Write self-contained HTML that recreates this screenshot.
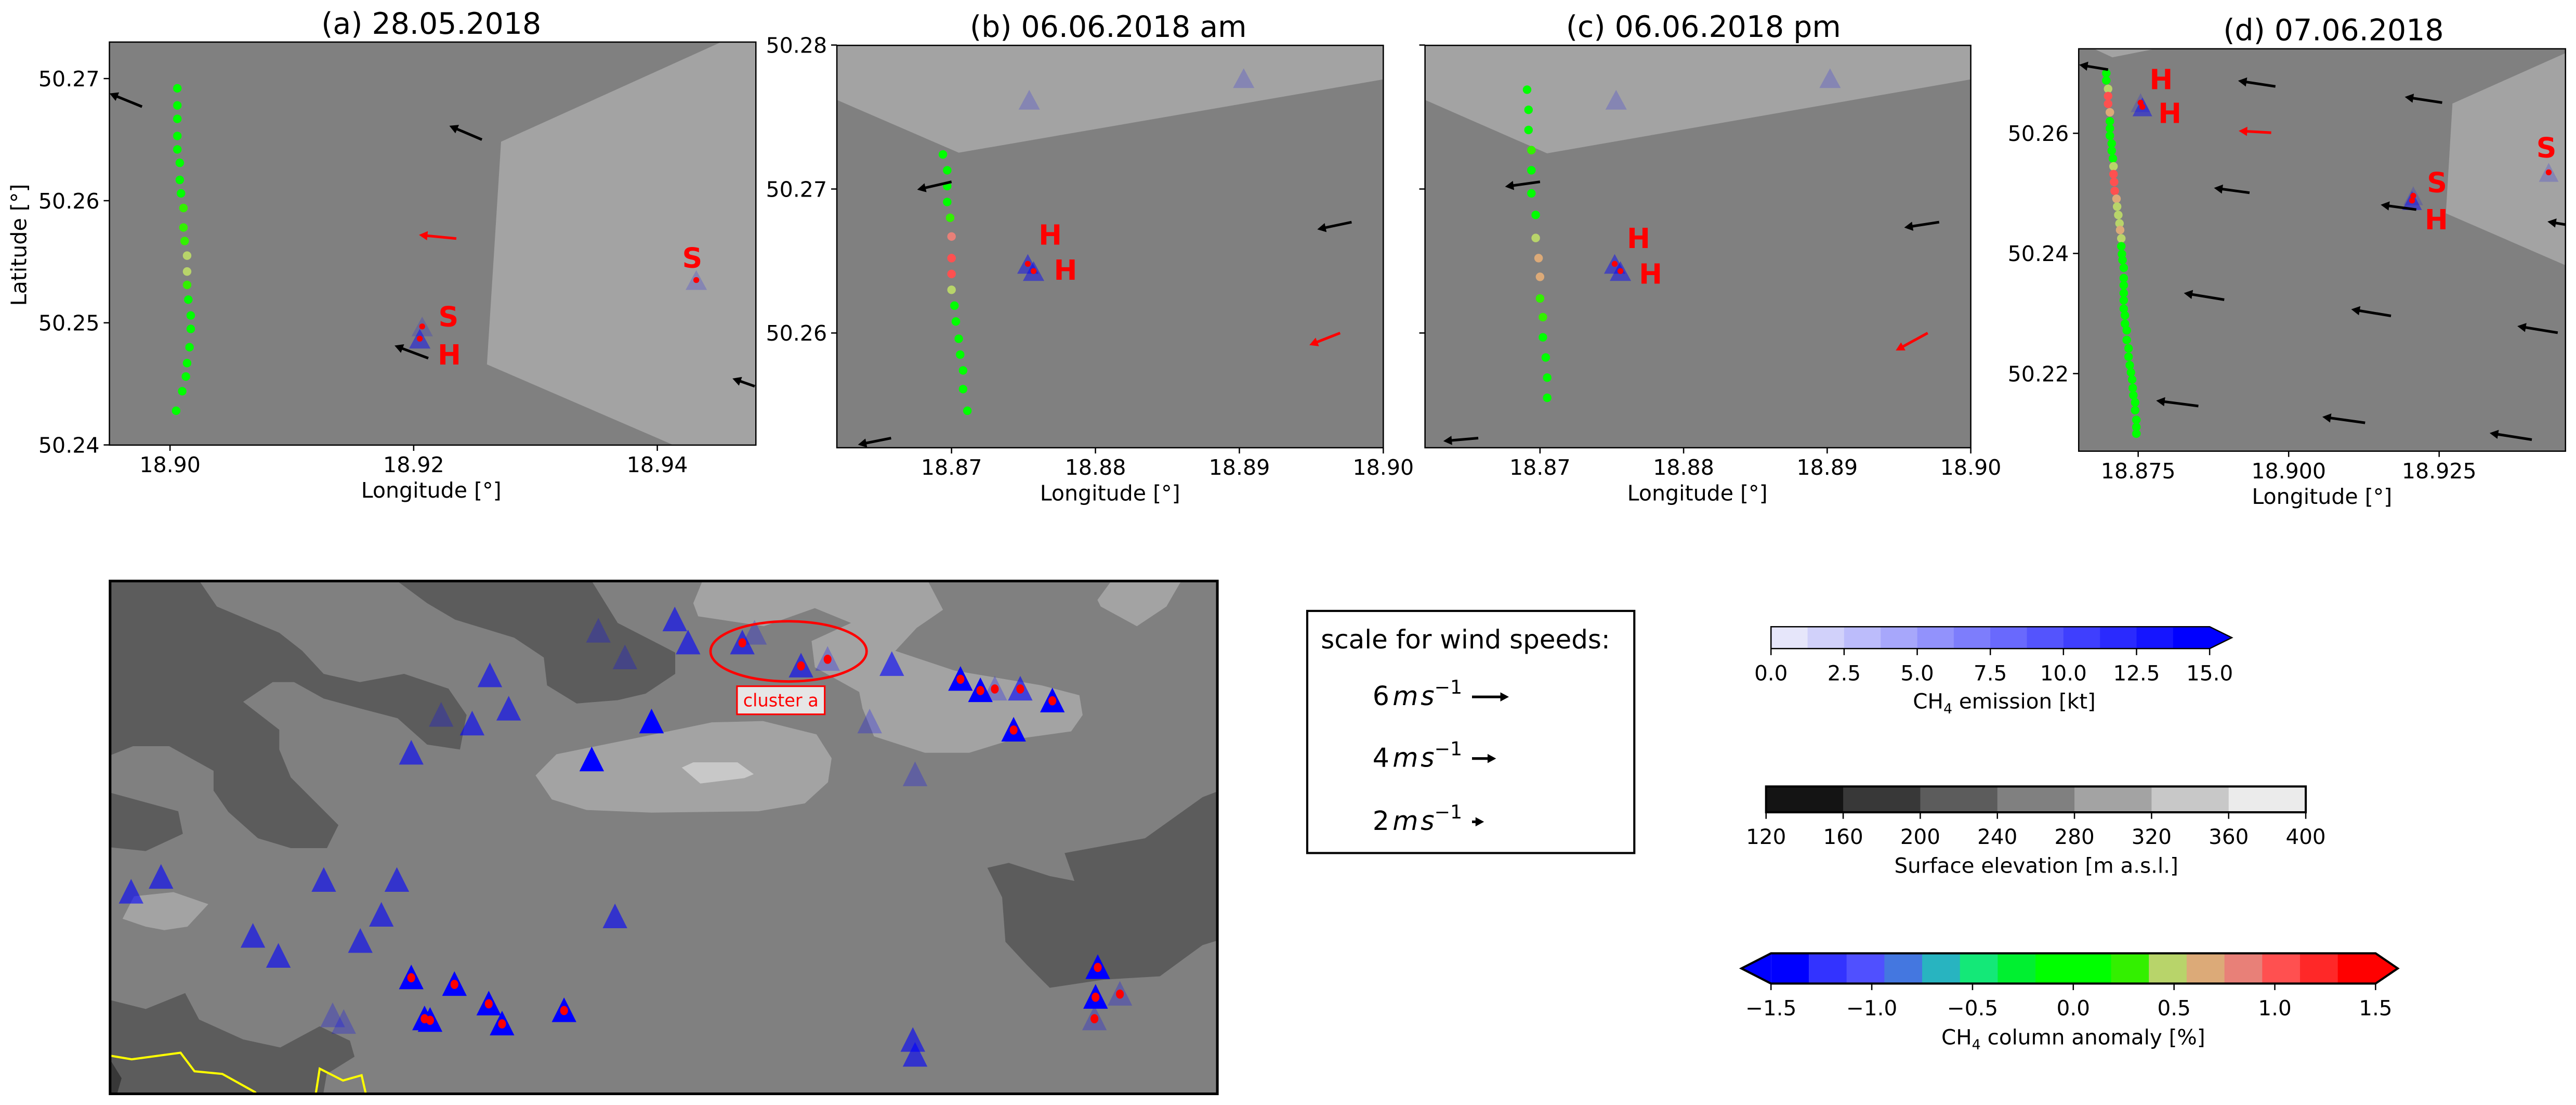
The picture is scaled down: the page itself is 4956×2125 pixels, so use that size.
<!DOCTYPE html>
<html><head><meta charset="utf-8">
<style>
html,body{margin:0;padding:0;background:#fff;}
svg{display:block;font-family:"DejaVu Sans","Liberation Sans",sans-serif;}
</style></head>
<body>
<svg id="fig" xmlns="http://www.w3.org/2000/svg" width="4956" height="2125" viewBox="0 0 1568 672.3" preserveAspectRatio="none">
<rect x="0" y="0" width="1568" height="672.3" fill="#fff"/>
<defs>
<clipPath id="clip-a"><rect x="66.6" y="25.6" width="393.5" height="245.2"/></clipPath>
<clipPath id="clip-b"><rect x="509.4" y="27.6" width="332.6" height="244.8"/></clipPath>
<clipPath id="clip-c"><rect x="867.4" y="27.6" width="332.2" height="244.8"/></clipPath>
<clipPath id="clip-d"><rect x="1265.3" y="29.7" width="296.3" height="244.8"/></clipPath>
<clipPath id="clip-map"><rect x="67" y="353.5" width="674" height="312"/></clipPath>
</defs>
<g id="layer"></g>
</svg>
<script>
// ---------- DATA ----------
const aLon = [18.9006,18.9006,18.9006,18.9006,18.9006,18.9008,18.9008,18.9009,18.9011,18.9011,18.9012,18.9014,18.9014,18.9014,18.9015,18.9017,18.9017,18.9016,18.9014,18.9013,18.9010,18.9005];
const aLat = [50.2692,50.2678,50.2667,50.2653,50.2642,50.2631,50.2617,50.2606,50.2594,50.2578,50.2567,50.2555,50.2542,50.2531,50.2519,50.2506,50.2495,50.2480,50.2467,50.2456,50.2444,50.2428];
const aAnom = [0,0,0,0,0,0,0,0,0.2,0.2,0.2,0.45,0.45,0.2,0,0,0,0,0,0,0,0];
const bLon = [18.8694,18.8697,18.8697,18.8697,18.8699,18.8700,18.8700,18.8700,18.8700,18.8702,18.8703,18.8705,18.8706,18.8708,18.8708,18.8711];
const bLat = [50.2724,50.2713,50.2702,50.2691,50.2680,50.2667,50.2652,50.2641,50.2630,50.2619,50.2608,50.2596,50.2585,50.2574,50.2561,50.2546];
const bAnom = [0,0,0,0,0.3,0.85,1.05,1.05,0.45,0,0,0,0,0,0,0];
const cLon = [18.8691,18.8692,18.8692,18.8694,18.8694,18.8694,18.8697,18.8697,18.8699,18.8700,18.8700,18.8702,18.8702,18.8704,18.8705,18.8705];
const cLat = [50.2769,50.2755,50.2741,50.2727,50.2713,50.2697,50.2682,50.2666,50.2652,50.2639,50.2624,50.2611,50.2597,50.2583,50.2569,50.2555];
const cAnom = [0,0,0,0.2,0,0,0,0.45,0.65,0.65,0.3,0.3,0,0,0,0];
const dLon = [18.8697,18.8697,18.8700,18.8700,18.8700,18.8703,18.8703,18.8703,18.8703,18.8706,18.8706,18.8708,18.8709,18.8709,18.8710,18.8711,18.8714,18.8715,18.8717,18.8719,18.8720,18.8722,18.8722,18.8723,18.8724,18.8726,18.8726,18.8726,18.8726,18.8726,18.8726,18.8728,18.8728,18.8731,18.8731,18.8734,18.8734,18.8736,18.8738,18.8740,18.8741,18.8742,18.8745,18.8745,18.8747,18.8747,18.8747];
const dLat = [50.2700,50.2688,50.2674,50.2662,50.2649,50.2635,50.2620,50.2608,50.2596,50.2583,50.2571,50.2558,50.2545,50.2532,50.2519,50.2504,50.2491,50.2478,50.2464,50.2450,50.2439,50.2425,50.2412,50.2399,50.2389,50.2376,50.2359,50.2347,50.2334,50.2322,50.2308,50.2297,50.2283,50.2272,50.2256,50.2242,50.2228,50.2214,50.2202,50.2190,50.2176,50.2164,50.2152,50.2139,50.2123,50.2111,50.2100];
const dAnom = [0,0,0.45,1.05,1.05,0.65,0,0,0,0,0,0,0.45,1.05,1.05,1.05,0.65,0.45,0.45,0.45,0.65,0.45,0,0,0,0,0,0,0,0,0,0,0,0,0,0,0,0,0,0,0,0,0,0,0,0,0];

const aStLon = [18.9207,18.9205,18.9432];
const aStLat = [50.2497,50.2487,50.2535];
const aStCls = ['f','m','f'];
const aStDot = [1,1,1];
const bStLon = [18.8754,18.8903,18.8753,18.8757];
const bStLat = [50.2762,50.2777,50.2648,50.2643];
const bStCls = ['f','f','m','m'];
const bStDot = [0,0,1,1];
const cStLon = [18.8753,18.8902,18.8752,18.8756];
const cStLat = [50.2762,50.2777,50.2648,50.2643];
const cStCls = ['f','f','m','m'];
const cStDot = [0,0,1,1];
const dStLon = [18.8754,18.8757,18.9207,18.9205,18.9432];
const dStLat = [50.2651,50.2644,50.2496,50.2488,50.2535];
const dStCls = ['f','m','f','m','f'];
const dStDot = [1,1,1,1,1];

const aWLon = [18.8977,18.9256,18.9235,18.9212,18.9480];
const aWLat = [50.2677,50.2650,50.2569,50.2471,50.2448];
const aWU = [-5.4,-5.4,-6.2,-5.6,-3.7];
const aWV = [2.2,2.3,0.6,2.1,1.3];
const aWRed = [0,0,1,0,0];
const bWLon = [18.8700,18.8978,18.8970,18.8658];
const bWLat = [50.2705,50.2677,50.2600,50.2527];
const bWU = [-5.7,-5.7,-5.1,-5.5];
const bWV = [-1.3,-1.2,-2.0,-1.1];
const bWRed = [0,0,1,0];
const cWLon = [18.8700,18.8978,18.8970,18.8657];
const cWLat = [50.2705,50.2677,50.2600,50.2527];
const cWU = [-5.8,-5.8,-5.3,-5.8];
const cWV = [-0.8,-0.9,-2.9,-0.5];
const cWRed = [0,0,1,0];
const dWLon = [18.8700,18.8978,18.9255,18.8971,18.8935,18.9212,18.9460,18.8893,18.9170,18.9447,18.8850,18.9127,18.9404];
const dWLat = [50.2706,50.2678,50.2651,50.2601,50.2501,50.2473,50.2448,50.2323,50.2296,50.2268,50.2146,50.2118,50.2090];
const dWU = [-4.8,-6.2,-6.2,-5.4,-5.9,-5.9,-3.0,-6.7,-6.6,-6.7,-7.0,-7.1,-7.0];
const dWV = [0.8,0.95,0.95,0.3,0.8,0.8,0.5,1.1,1.1,1.1,0.9,1.0,1.1];
const dWRed = [0,0,0,1,0,0,0,0,0,0,0,0,0];

const aXTicks = [18.90,18.92,18.94];
const aYTicks = [50.24,50.25,50.26,50.27];
const bXTicks = [18.87,18.88,18.89,18.90];
const bYTicks = [50.26,50.27,50.28];
const cXTicks = [18.87,18.88,18.89,18.90];
const cYTicks = [50.26,50.27,50.28];
const dXTicks = [18.875,18.900,18.925];
const dYTicks = [50.22,50.24,50.26];

const mapE = [51.0,44.1,46.5,52.2,57.1,58.2,62.4,64.8,70.6,34.3,48.9,36.0,32.7,29.9,27.2,43.5,76.8,78.6,79.9,82.2,85.1,81.6,68.6,72.7,1.9,4.6,19.3,25.9,24.5,12.9,22.6,15.2,45.6,27.2,31.1,34.2,28.4,28.9,35.4,41.0,20.1,21.1,89.2,89.0,91.2,88.9,72.5,72.7];
const mapN = [92.6,90.4,85.2,88.1,88.1,90.0,83.6,84.9,83.9,81.7,72.7,75.2,72.3,74.0,66.6,65.3,81.0,78.8,79.1,79.1,76.8,71.1,72.7,62.4,39.5,42.4,41.8,41.8,35.0,30.9,29.9,27.0,34.7,22.8,21.5,17.7,14.8,14.5,13.8,16.4,15.4,14.1,24.8,19.0,19.6,14.8,10.6,7.7];
const mapCls = ['m','f','f','m','m','f','m','f','m','m','s','m','m','f','m','s','s','s','f','m','s','s','f','f','m','m','m','m','m','m','m','m','m','s','s','s','s','s','s','s','f','f','s','s','f','f','m','m'];
const mapDot = [0,0,0,0,1,0,1,1,0,0,0,0,0,0,0,0,1,1,1,1,1,1,0,0,0,0,0,0,0,0,0,0,0,1,1,1,1,1,1,1,0,0,1,1,1,1,0,0];

const emisLevels = [0,1.25,2.5,3.75,5,6.25,7.5,8.75,10,11.25,12.5,13.75,15];
const emisTicks = [0,2.5,5,7.5,10,12.5,15];
const elevLevels = [120,160,200,240,280,320,360,400];
const elevTicks = [120,160,200,240,280,320,360,400];
const anomLevels = [-1.5,-1.3125,-1.125,-0.9375,-0.75,-0.5625,-0.375,-0.1875,0,0.1875,0.375,0.5625,0.75,0.9375,1.125,1.3125,1.5];
const anomTicks = [-1.5,-1.0,-0.5,0.0,0.5,1.0,1.5];
const windScaleSpeeds = [6,4,2];

// ---------- STYLE ----------
const ANOM_COLORS = ['#0000ff','#3333ff','#5050ff','#4477e0','#28b4c0','#14e878','#00f030','#00ff00','#00ff00','#33f000','#b8d46a','#dcaa78','#e88078','#ff5050','#ff2828','#ff0000'];
const ELEV_COLORS = ['#141414','#383838','#5c5c5c','#808080','#a3a3a3','#c8c8c8','#ebebeb'];
const PX_PER_MS = 3.67;

const NS = 'http://www.w3.org/2000/svg';
const root = document.getElementById('layer');
function mk(tag, attrs, parent){
  const e = document.createElementNS(NS, tag);
  for (const k in attrs) e.setAttribute(k, attrs[k]);
  (parent || root).appendChild(e);
  return e;
}
function anomColor(v){
  let i = 0;
  while (i < anomLevels.length - 2 && v >= anomLevels[i+1]) i++;
  if (v < anomLevels[0]) return '#0000ff';
  return ANOM_COLORS[i];
}
function arrow(g, x, y, dx, dy, color){
  const L = Math.hypot(dx, dy);
  if (L < 0.01) return null;
  const ux = dx / L, uy = dy / L, nx = -uy, ny = ux;
  const hl = 5.2, hw = 2.8, sw = 0.8;
  const bx = x + dx - ux*hl, by = y + dy - uy*hl;
  const pts = [
    [x + nx*sw, y + ny*sw], [bx + nx*sw, by + ny*sw], [bx + nx*hw, by + ny*hw],
    [x + dx, y + dy], [bx - nx*hw, by - ny*hw], [bx - nx*sw, by - ny*sw], [x - nx*sw, y - ny*sw]
  ].map(p => p[0].toFixed(2) + ',' + p[1].toFixed(2)).join(' ');
  return mk('polygon', {points: pts, fill: color}, g);
}
function tri(g, cx, cy, w, h, fill){
  return mk('polygon', {points: (cx)+','+(cy-h/2)+' '+(cx-w/2)+','+(cy+h/2)+' '+(cx+w/2)+','+(cy+h/2), fill: fill}, g);
}

// ---------- PANELS ----------
const panels = [
  {id:'a', title:'(a) 28.05.2018', L:66.6, R:460.1, T:25.6, B:270.8, lon0:18.90, px0:103.5, kx:7415, lat0:50.27, py0:47.8, ky:7430,
   lon:aLon, lat:aLat, anom:aAnom, stLon:aStLon, stLat:aStLat, stCls:aStCls, stDot:aStDot,
   wLon:aWLon, wLat:aWLat, wU:aWU, wV:aWV, wRed:aWRed, xt:aXTicks, yt:aYTicks, xdec:2, ydec:2, ylab:true,
   titleX:262.5, titleY:20.5, xlabX:262.5, xlabY:302.7, dotR:2.6, triW:13, triH:12,
   bg:[[[439,25.6],[460.1,25.6],[460.1,270.8],[410,270.8],[296.4,221.7],[305,86.2]]],
   labels:[['S',273,192.7],['H',273.5,216],['S',421.4,157]]},
  {id:'b', title:'(b) 06.06.2018 am', L:509.4, R:842, T:27.6, B:272.4, lon0:18.87, px0:579.2, kx:8760, lat0:50.27, py0:115, ky:8760,
   lon:bLon, lat:bLat, anom:bAnom, stLon:bStLon, stLat:bStLat, stCls:bStCls, stDot:bStDot,
   wLon:bWLon, wLat:bWLat, wU:bWU, wV:bWV, wRed:bWRed, xt:bXTicks, yt:bYTicks, xdec:2, ydec:2, ylab:true,
   titleX:674.6, titleY:22.5, xlabX:675.7, xlabY:304.5, dotR:2.6, triW:13, triH:12,
   bg:[[[509.4,27.6],[842,27.6],[842,48.3],[583.6,92.9],[509.4,60.8]]],
   labels:[['H',639.3,143],['H',648.6,164.3]]},
  {id:'c', title:'(c) 06.06.2018 pm', L:867.4, R:1199.6, T:27.6, B:272.4, lon0:18.87, px0:937.4, kx:8740, lat0:50.27, py0:115, ky:8760,
   lon:cLon, lat:cLat, anom:cAnom, stLon:cStLon, stLat:cStLat, stCls:cStCls, stDot:cStDot,
   wLon:cWLon, wLat:cWLat, wU:cWU, wV:cWV, wRed:cWRed, xt:cXTicks, yt:cYTicks, xdec:2, ydec:2, ylab:false,
   titleX:1036.9, titleY:22.5, xlabX:1033.2, xlabY:304.5, dotR:2.6, triW:13, triH:12,
   bg:[[[867.4,27.6],[1199.6,27.6],[1199.6,48.3],[941.7,93.3],[867.4,60.8]]],
   labels:[['H',997.4,145],['H',1004.7,166.7]]},
  {id:'d', title:'(d) 07.06.2018', L:1265.3, R:1561.6, T:29.7, B:274.5, lon0:18.875, px0:1301.5, kx:3664, lat0:50.26, py0:81.1, ky:3655,
   lon:dLon, lat:dLat, anom:dAnom, stLon:dStLon, stLat:dStLat, stCls:dStCls, stDot:dStDot,
   wLon:dWLon, wLat:dWLat, wU:dWU, wV:dWV, wRed:dWRed, xt:dXTicks, yt:dYTicks, xdec:3, ydec:2, ylab:true,
   titleX:1420.4, titleY:24.5, xlabX:1413.4, xlabY:306.5, dotR:2.6, triW:12, triH:11.5,
   bg:[[[1274.6,29.7],[1312,29.7],[1285.8,34.9]],[[1561.6,32.3],[1561.6,161.4],[1488.8,129.8],[1492.8,63]]],
   labels:[['H',1315.5,48.4],['H',1320.8,69],['S',1483.4,111],['H',1483,133.6],['S',1550,89.8]]}
];

panels.forEach(p => {
  const sx = lon => p.px0 + (lon - p.lon0) * p.kx;
  const sy = lat => p.py0 + (p.lat0 - lat) * p.ky;
  const g = mk('g', {});
  
  
  const plot = mk('g', {'clip-path': 'url(#clip-' + p.id + ')'}, g);
  const bgr = mk('rect', {x:p.L, y:p.T, width:p.R-p.L, height:p.B-p.T, fill:'#808080'}, plot);
  
  
  p.bg.forEach(poly => {
    const e = mk('polygon', {points: poly.map(q => q.join(',')).join(' '), fill:'#a3a3a3'}, plot);
    
    
  });
  p.stLon.forEach((lo, i) => {
    const cx = sx(lo), cy = sy(p.stLat[i]);
    const fill = p.stCls[i] === 'm' ? 'rgba(0,0,255,0.45)' : 'rgba(0,0,255,0.18)';
    const t = tri(plot, cx, cy, p.triW, p.triH, fill);
    
    
  });
  p.stLon.forEach((lo, i) => {
    if (!p.stDot[i]) return;
    const d = mk('circle', {cx: sx(lo), cy: sy(p.stLat[i]), r: 1.8, fill:'#ff0000'}, plot);
    
    
  });
  p.lon.forEach((lo, i) => {
    const c = mk('circle', {cx: sx(lo), cy: sy(p.lat[i]), r: p.dotR, fill: anomColor(p.anom[i])}, plot);
    
    
  });
  p.wLon.forEach((lo, i) => {
    const a = arrow(plot, sx(lo), sy(p.wLat[i]), p.wU[i]*PX_PER_MS, -p.wV[i]*PX_PER_MS, p.wRed[i] ? '#ff0000' : '#000000');
    
    
  });
  p.labels.forEach(l => {
    const t = mk('text', {x:l[1], y:l[2], 'text-anchor':'middle', 'dominant-baseline':'central', 'font-size':17, 'font-weight':'bold', fill:'#ff0000'}, plot);
    t.textContent = l[0];
    
    
  });
  const fr = mk('rect', {x:p.L, y:p.T, width:p.R-p.L, height:p.B-p.T, fill:'none', stroke:'#000', 'stroke-width':0.8}, g);
  
  
  p.xt.forEach(v => {
    const x = sx(v);
    const tk = mk('line', {x1:x, x2:x, y1:p.B, y2:p.B+3.5, stroke:'#000', 'stroke-width':0.8}, g);
    
    
    const t = mk('text', {x:x, y:p.B+16.5, 'text-anchor':'middle', 'font-size':13, fill:'#000'}, g);
    t.textContent = v.toFixed(p.xdec);
    
    
  });
  p.yt.forEach(v => {
    const y = sy(v);
    const tk = mk('line', {x1:p.L-3.5, x2:p.L, y1:y, y2:y, stroke:'#000', 'stroke-width':0.8}, g);
    
    
    if (p.ylab) {
      const t = mk('text', {x:p.L-6, y:y+4.7, 'text-anchor':'end', 'font-size':13, fill:'#000'}, g);
      t.textContent = v.toFixed(p.ydec);
      
      
    }
  });
  const ti = mk('text', {x:p.titleX, y:p.titleY, 'text-anchor':'middle', 'font-size':18, fill:'#000'}, g);
  ti.textContent = p.title;
  
  
  const xl = mk('text', {x:p.xlabX, y:p.xlabY, 'text-anchor':'middle', 'font-size':13, fill:'#000'}, g);
  xl.textContent = 'Longitude [°]';
  
  
});
const ylab = mk('text', {x:0, y:0, transform:'translate(16,149) rotate(-90)', 'text-anchor':'middle', 'font-size':13, fill:'#000'});
ylab.textContent = 'Latitude [°]';



// ---------- OVERVIEW MAP ----------
const M = {L:67, R:741, T:353.5, B:665.5};
const mx = e => M.L + e/100*(M.R-M.L);
const my = n => M.B - n/100*(M.B-M.T);
const mapG = mk('g', {});


const mapPlot = mk('g', {'clip-path':'url(#clip-map)'}, mapG);
mk('rect', {x:M.L, y:M.T, width:M.R-M.L, height:M.B-M.T, fill:'#808080'}, mapPlot);
const mapPolys = [
  ['#5c5c5c', [[66,350],[119,350],[132,369],[170,385],[184,396],[197,410],[219,415],[246,410],[273,419],[284,435],[280,456],[260,453],[242,437],[219,431],[197,425],[179,415],[166,415],[148,427],[170,444],[170,456],[177,473],[206,502],[199,516],[177,516],[157,510],[139,494],[130,481],[130,469],[103,454],[81,454],[66,460]]],
  ['#5c5c5c', [[66,482],[108.5,493.6],[111.3,507.3],[88.7,517.8],[66,515.4]]],
  ['#5c5c5c', [[237,350],[260,367],[277,377],[313,388],[331,400],[333,417],[351,428],[376,426],[393,422],[411,410],[411,397],[376,379],[358,350]]],
  ['#5c5c5c', [[66,608.2],[88.7,613.9],[112.7,604.2],[121.2,620.3],[148,632.4],[170.6,637.3],[194.6,624.4],[213,633.2],[215.8,642.9],[198.9,653.4],[196,670],[66,670]]],
  ['#5c5c5c', [[601,528],[614,525],[639,533],[654,536],[648,519],[697,510],[732,485],[745,480],[745,571],[732,575],[706,594],[672,596],[639,601],[625,587],[612,573],[610,546]]],
  ['#383838', [[66,643],[74,656],[70,670],[66,670]]],
  ['#a3a3a3', [[429,350],[563,350],[574,371],[558,382],[545,396],[581,408],[634,417],[657,423],[659,435],[652,445],[616,450],[590,458],[563,458],[532,448],[525,431],[523,421],[496,406],[494,390],[518,379],[496,370],[465,381],[425,375],[422,367]]],
  ['#a3a3a3', [[679,350],[721,350],[710,369],[692,381],[670,369],[668,365]]],
  ['#a3a3a3', [[326,471.8],[338.7,458.9],[382.5,450],[433.3,439.5],[464.4,438.7],[497,446.8],[506.2,461.3],[504,475.9],[489.9,488.8],[461.6,493.6],[396.6,494.4],[357,492.8],[335.9,486.4]]],
  ['#c8c8c8', [[415,467],[422,463.8],[448.9,463.8],[458.8,471],[453.1,473.4],[426.3,476.7]]],
  ['#a3a3a3', [[74.6,559],[81.6,545.3],[105.6,542.8],[126.8,550.1],[114.1,563.8],[100,565.9],[88.7,563.8]]]
];
mapPolys.forEach(pp => {
  const e = mk('polygon', {points: pp[1].map(q => q.join(',')).join(' '), fill: pp[0]}, mapPlot);
  
  
});
const border1 = mk('polyline', {points:'66,642.1 80.2,644.5 109.9,640.5 118.4,651.8 135.3,653.4 155.1,664.4 160,670', fill:'none', stroke:'#ffff00', 'stroke-width':1.3}, mapPlot);


const border2 = mk('polyline', {points:'191.5,670 194.6,650.2 208.8,657.4 220.1,654.2 223.7,670', fill:'none', stroke:'#ffff00', 'stroke-width':1.3}, mapPlot);


const clsFill = {s:'#0000ff', m:'rgba(0,0,255,0.6)', f:'rgba(0,0,255,0.25)'};
mapE.forEach((e, i) => {
  const t = tri(mapPlot, mx(e), my(mapN[i]), 15, 15, clsFill[mapCls[i]]);
  
  
});
mapE.forEach((e, i) => {
  if (!mapDot[i]) return;
  const d = mk('ellipse', {cx: mx(e), cy: my(mapN[i]) + 0.5, rx: 2.4, ry: 2.8, fill:'#ff0000'}, mapPlot);
  
  
});
const ell = mk('ellipse', {cx:480, cy:396.3, rx:47.5, ry:18.3, fill:'none', stroke:'#ff0000', 'stroke-width':1.5}, mapPlot);


const cbox = mk('rect', {x:448.6, y:417.5, width:53.4, height:17.1, fill:'#e6e6e6', stroke:'#ff0000', 'stroke-width':1}, mapPlot);


const ctxt = mk('text', {x:475.3, y:429.8, 'text-anchor':'middle', 'font-size':10.6, fill:'#ff0000'}, mapPlot);
ctxt.textContent = 'cluster a';


const mframe = mk('rect', {x:M.L, y:M.T, width:M.R-M.L, height:M.B-M.T, fill:'none', stroke:'#000', 'stroke-width':1.6}, mapG);



// ---------- WIND SCALE LEGEND ----------
const wg = mk('g', {});


mk('rect', {x:795.7, y:371.7, width:199.1, height:147.3, fill:'#fff', stroke:'#000', 'stroke-width':1.3}, wg);
const wt = mk('text', {x:804, y:394.5, 'font-size':15.8, fill:'#000'}, wg);
wt.textContent = 'scale for wind speeds:';


const rowY = [429, 466.5, 505];
windScaleSpeeds.forEach((s, i) => {
  const t = mk('text', {x:835.5, y:rowY[i], 'font-size':16, fill:'#000'}, wg);
  
  
  const t1 = mk('tspan', {}, t); t1.textContent = String(s);
  const t2 = mk('tspan', {'font-style':'italic', dx:2}, t); t2.textContent = 'm';
  const t3 = mk('tspan', {'font-style':'italic', dx:1.5}, t); t3.textContent = 's';
  const t4 = mk('tspan', {'font-size':11.5, dy:-7}, t); t4.textContent = '−1';
  const a = arrow(wg, 896, rowY[i]-5, s*PX_PER_MS*(i===0?1.02:1), 0, '#000');
  
  
});

// ---------- COLORBARS ----------
function colorbar(name, levels, colors, ticks, x0, x1, y0, y1, extL, extR, tickFmt, titleParts, titleX, titleY, thick){
  const g = mk('g', {});
  
  
  const vmin = levels[0], vmax = levels[levels.length-1];
  const X = v => x0 + (v - vmin)/(vmax - vmin)*(x1 - x0);
  for (let i = 0; i < levels.length-1; i++) {
    const r = mk('rect', {x:X(levels[i]), y:y0, width:X(levels[i+1])-X(levels[i])+0.4, height:y1-y0, fill:colors[i]}, g);
    
    
  }
  const ym = (y0+y1)/2, ext = 13.5;
  let outline = x0+','+y0+' '+x1+','+y0;
  if (extR) { mk('polygon', {points: x1+','+y0+' '+(x1+ext)+','+ym+' '+x1+','+y1, fill: colors[colors.length-1]}, g); outline += ' '+(x1+ext)+','+ym; }
  outline += ' '+x1+','+y1+' '+x0+','+y1;
  if (extL) { mk('polygon', {points: x0+','+y0+' '+(x0-ext-4.5)+','+ym+' '+x0+','+y1, fill: colors[0]}, g); outline += ' '+(x0-ext-4.5)+','+ym; }
  mk('polygon', {points: outline, fill:'none', stroke:'#000', 'stroke-width': thick}, g);
  ticks.forEach(v => {
    const x = X(v);
    mk('line', {x1:x, x2:x, y1:y1, y2:y1+4, stroke:'#000', 'stroke-width':0.8}, g);
    const t = mk('text', {x:x, y:y1+19.3, 'text-anchor':'middle', 'font-size':12.8, fill:'#000'}, g);
    t.textContent = tickFmt(v);
    
    
  });
  const tt = mk('text', {x:titleX, y:titleY, 'text-anchor':'middle', 'font-size':12.8, fill:'#000'}, g);
  
  
  titleParts.forEach(tp => {
    const s = mk('tspan', tp[1] ? {'font-size':8.5, dy:3} : {}, tt);
    s.textContent = tp[0];
    if (tp[2]) s.setAttribute('dy', -3);
  });
}
const emisColors = [];
for (let i = 0; i < emisLevels.length-1; i++) {
  const t = i/(emisLevels.length-2);
  emisColors.push('rgb(' + Math.round(230*(1-t)) + ',' + Math.round(230*(1-t)) + ',' + Math.round(250+5*t) + ')');
}
colorbar('ch4-emission-colorbar', emisLevels, emisColors, emisTicks, 1078, 1345, 381.3, 394.6, false, true,
  v => v.toFixed(1), [['CH'],['4',true],[' emission [kt]',false,true]], 1220, 431, 0.8);
colorbar('surface-elevation-colorbar', elevLevels, ELEV_COLORS, elevTicks, 1075, 1403.5, 478.5, 494.2, false, false,
  v => String(v), [['Surface elevation [m a.s.l.]']], 1239.5, 531, 1.3);
colorbar('ch4-anomaly-colorbar', anomLevels, ANOM_COLORS, anomTicks, 1078, 1446, 580, 598.4, true, true,
  v => (v < 0 ? '−' : '') + Math.abs(v).toFixed(1), [['CH'],['4',true],[' column anomaly [%]',false,true]], 1262, 635.5, 1.3);
</script>
</body></html>
